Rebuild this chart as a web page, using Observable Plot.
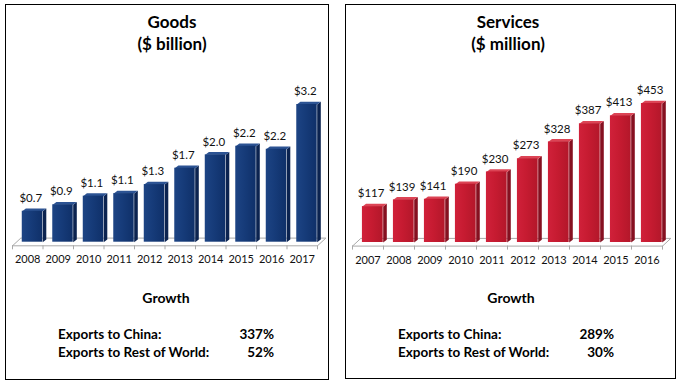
<!DOCTYPE html>
<html>
<head>
<meta charset="utf-8">
<script src="https://cdn.jsdelivr.net/npm/d3@7"></script>
<script src="https://cdn.jsdelivr.net/npm/@observablehq/plot@0.6"></script>
<style>
  html, body { margin: 0; padding: 0; background: #fff; }
  body { position: relative; width: 679px; height: 385px; overflow: hidden; font-family: Lato, "Open Sans", sans-serif; color: #000; }
  .panel { position: absolute; border: 1px solid #000; box-sizing: border-box; }
  .abs { position: absolute; white-space: nowrap; }
  .title { font-weight: bold; font-size: 17px; line-height: 22px; text-align: center; width: 200px; }
  .growth { font-weight: bold; font-size: 14px; line-height: 18px; text-align: center; width: 120px; }
  .row { font-weight: bold; font-size: 13.5px; line-height: 17.5px; }
  .chart { position: absolute; top: 0; }
  .chart svg { overflow: visible; }
</style>
</head>
<body>
<svg width="0" height="0" style="position:absolute">
  <defs>
    <linearGradient id="gGoods" x1="0" x2="1" y1="0" y2="0">
      <stop offset="0" stop-color="#1d4484"/>
      <stop offset="0.45" stop-color="#163b79"/>
      <stop offset="1" stop-color="#0f3069"/>
    </linearGradient>
    <linearGradient id="gServ" x1="0" x2="1" y1="0" y2="0">
      <stop offset="0" stop-color="#d0213a"/>
      <stop offset="0.45" stop-color="#c61b31"/>
      <stop offset="1" stop-color="#b3172a"/>
    </linearGradient>
  </defs>
</svg>

<div class="panel" style="left:5px;top:4px;width:324px;height:376px"></div>
<div class="panel" style="left:345px;top:4px;width:331px;height:375px"></div>

<div class="abs title" style="left:72px;top:11px">Goods</div>
<div class="abs title" style="left:72px;top:33px">($ billion)</div>
<div class="abs title" style="left:408px;top:11px">Services</div>
<div class="abs title" style="left:408px;top:33px">($ million)</div>

<div id="goodsChart" class="chart" style="left:0px"></div>
<div id="servChart" class="chart" style="left:340px"></div>

<div id="goodsGrowth"></div>
<div id="servGrowth"></div>

<script>
// ---------- data ----------
const goodsYears = [2008, 2009, 2010, 2011, 2012, 2013, 2014, 2015, 2016, 2017];
const goodsValues = [0.72, 0.87, 1.07, 1.13, 1.34, 1.72, 2.03, 2.23, 2.16, 3.2];
const servicesYears = [2007, 2008, 2009, 2010, 2011, 2012, 2013, 2014, 2015, 2016];
const servicesValues = [117, 139, 141, 190, 230, 273, 328, 387, 413, 453];
const growthLabels = ["Exports to China:", "Exports to Rest of World:"];
const goodsGrowth = ["337%", "52%"];
const servicesGrowth = ["289%", "30%"];

// ---------- layout / style constants ----------
const F0 = 0.32, F1 = 0.99;      // front face within band
const SIDE = 3.6, TOPD = 2.8;    // bar depth (px)
const FLOOR_FRONT = 3.6, FLOOR_DX = 8.3, FLOOR_DY = 7.7, TICK = 4;

function chart({years, values, fmt, ymax, width, height, ml, mr, mt, mb, front, side, top}) {
  const n = years.length;
  const kx = (width - ml - mr) / n;
  const ky = (height - mt - mb) / ymax;
  const sx = SIDE / kx, sy = TOPD / ky;
  const data = years.map((year, i) => ({year, value: values[i], i}));
  const xa = d => d.i + F0, xb = d => d.i + F1;
  const sides = data.flatMap(d => [
    {i: d.i, x: xb(d), y: 0},
    {i: d.i, x: xb(d) + sx, y: sy},
    {i: d.i, x: xb(d) + sx, y: d.value + sy},
    {i: d.i, x: xb(d), y: d.value}
  ]);
  const tops = data.flatMap(d => [
    {i: d.i, x: xa(d), y: d.value},
    {i: d.i, x: xb(d), y: d.value},
    {i: d.i, x: xb(d) + sx, y: d.value + sy},
    {i: d.i, x: xa(d) + sx, y: d.value + sy}
  ]);
  const fy = -FLOOR_FRONT / ky, bx = FLOOR_DX / kx, by = FLOOR_DY / ky;
  const floor = [
    {x: 0, y: fy}, {x: n, y: fy}, {x: n + bx, y: fy + by}, {x: bx, y: fy + by}, {x: 0, y: fy}
  ];
  const ticks = d3.range(n + 1);
  return Plot.plot({
    width, height,
    marginLeft: ml, marginRight: mr, marginTop: mt, marginBottom: mb,
    x: {domain: [0, n], axis: null},
    y: {domain: [0, ymax], axis: null},
    style: {fontFamily: "Lato, 'Open Sans', sans-serif", fontSize: "11px", background: "transparent", overflow: "visible"},
    marks: [
      Plot.line(floor, {x: "x", y: "y", stroke: "#a9a9a9", strokeWidth: 1}),
      Plot.ruleX(ticks, {x: d => d, y1: fy, y2: fy - TICK / ky, stroke: "#a9a9a9", strokeWidth: 1}),
      Plot.line(sides, {x: "x", y: "y", z: "i", fill: side, stroke: "none"}),
      Plot.line(tops, {x: "x", y: "y", z: "i", fill: top, stroke: "none"}),
      Plot.rect(data, {x1: xa, x2: xb, y1: 0, y2: "value", fill: front}),
      Plot.text(data, {x: d => d.i + 0.6, y: "value", text: d => fmt(d.value), dy: -13, fill: "#111", fontSize: 11.5}),
      Plot.text(data, {x: d => d.i + 0.5, y: 0, text: d => String(d.year), dy: 17.5, fill: "#111", fontSize: 11})
    ]
  });
}

document.getElementById("goodsChart").append(chart({
  years: goodsYears, values: goodsValues, fmt: v => "$" + v.toFixed(1), ymax: 3.2,
  width: 340, height: 280, ml: 12, mr: 23, mt: 104, mb: 38.3,
  front: "url(#gGoods)", side: "#0b2350", top: "#2c5393"
}));
document.getElementById("servChart").append(chart({
  years: servicesYears, values: servicesValues, fmt: v => "$" + v, ymax: 453,
  width: 339, height: 280, ml: 12, mr: 17, mt: 103, mb: 38,
  front: "url(#gServ)", side: "#861020", top: "#dc4455"
}));

function growthBlock(el, centerX, leftX, rightX, values) {
  const g = document.createElement("div");
  g.className = "abs growth";
  g.style.left = (centerX - 60) + "px";
  g.style.top = "289px";
  g.textContent = "Growth";
  el.append(g);
  growthLabels.forEach((lab, k) => {
    const a = document.createElement("div");
    a.className = "abs row";
    a.style.left = leftX + "px";
    a.style.top = (326 + k * 17.5) + "px";
    a.textContent = lab;
    const b = document.createElement("div");
    b.className = "abs row";
    b.style.left = (rightX - 80) + "px";
    b.style.width = "80px";
    b.style.textAlign = "right";
    b.style.top = (326 + k * 17.5) + "px";
    b.textContent = values[k];
    el.append(a, b);
  });
}
growthBlock(document.getElementById("goodsGrowth"), 166, 58, 274, goodsGrowth);
growthBlock(document.getElementById("servGrowth"), 511, 398, 614, servicesGrowth);
</script>
</body>
</html>
